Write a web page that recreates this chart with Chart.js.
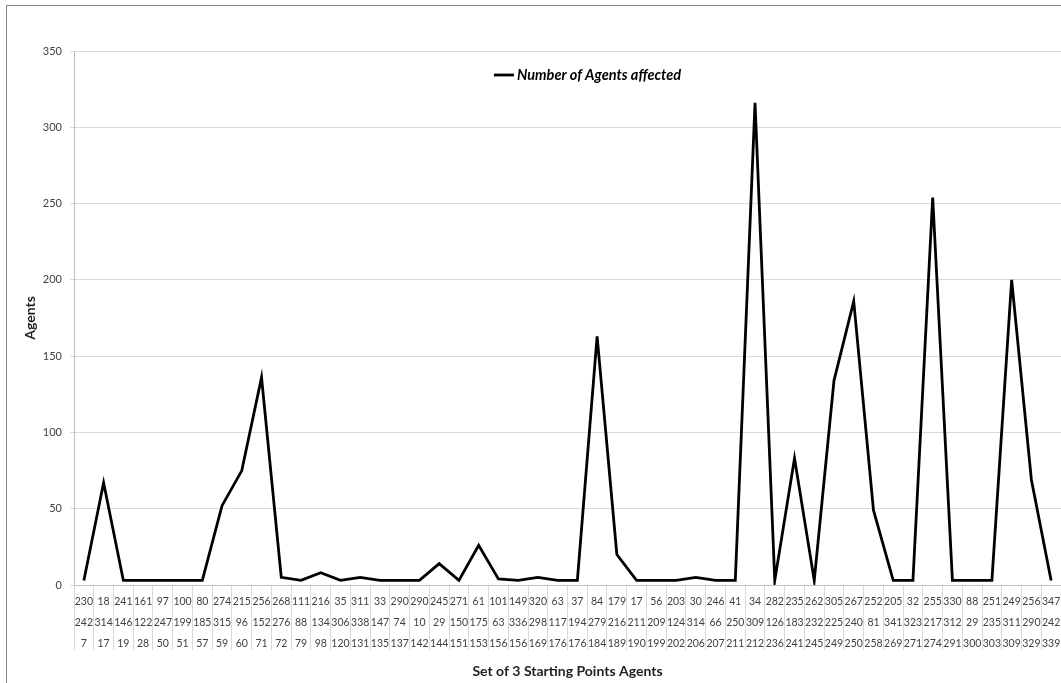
<!DOCTYPE html>
<html>
<head>
<meta charset="utf-8">
<script src="https://cdn.jsdelivr.net/npm/chart.js@4.4.0/dist/chart.umd.min.js"></script>
<style>
  html, body { margin: 0; padding: 0; background: #fff; overflow: hidden; }
  #frame { position: absolute; left: 6px; top: 5px; width: 1200px; height: 800px; border: 1px solid #868686; }
  #wrap { position: absolute; left: 0; top: 0; width: 1061px; height: 683px; }
</style>
</head>
<body>
<div id="frame"></div>
<div id="wrap"><canvas id="agentsChart"></canvas></div>
<script>
// three starting points for each run (x axis rows)
const firstPoint  = [230, 18, 241, 161, 97, 100, 80, 274, 215, 256, 268, 111, 216, 35, 311, 33, 290, 290, 245, 271, 61, 101, 149, 320, 63, 37, 84, 179, 17, 56, 203, 30, 246, 41, 34, 282, 235, 262, 305, 267, 252, 205, 32, 255, 330, 88, 251, 249, 256, 347];
const secondPoint = [242, 314, 146, 122, 247, 199, 185, 315, 96, 152, 276, 88, 134, 306, 338, 147, 74, 10, 29, 150, 175, 63, 336, 298, 117, 194, 279, 216, 211, 209, 124, 314, 66, 250, 309, 126, 183, 232, 225, 240, 81, 341, 323, 217, 312, 29, 235, 311, 290, 242];
const thirdPoint  = [7, 17, 19, 28, 50, 51, 57, 59, 60, 71, 72, 79, 98, 120, 131, 135, 137, 142, 144, 151, 153, 156, 156, 169, 176, 176, 184, 189, 190, 199, 202, 206, 207, 211, 212, 236, 241, 245, 249, 250, 258, 269, 271, 274, 291, 300, 303, 309, 329, 339];

const agentsAffected = [3, 67, 3, 3, 3, 3, 3, 52, 75, 136, 5, 3, 8, 3, 5, 3, 3, 3, 14, 3, 26, 4, 3, 5, 3, 3, 163, 20, 3, 3, 3, 5, 3, 3, 316, 3, 83, 3, 134, 186, 49, 3, 3, 254, 3, 3, 3, 200, 69, 3];

const yTicks = [0, 50, 100, 150, 200, 250, 300, 350];

const labels = firstPoint.map((a, i) => [String(a), String(secondPoint[i]), String(thirdPoint[i])]);

const FONT = 'Lato, "Open Sans", sans-serif';

// legend sits inside the plot, near the top, like the spreadsheet one
const insideLegend = {
    id: 'insideLegend',
    afterDraw(chart) {
        const { ctx, chartArea } = chart;
        const ds = chart.data.datasets[0];
        ctx.save();
        ctx.font = 'italic bold 14.5px ' + FONT;
        const textW = ctx.measureText(ds.label).width;
        const total = 20 + 3 + textW;
        const x0 = (chartArea.left + chartArea.right) / 2 + 20 - total / 2;
        const y = chartArea.top + 24;
        ctx.strokeStyle = ds.borderColor;
        ctx.lineWidth = 2.8;
        ctx.beginPath();
        ctx.moveTo(x0, y);
        ctx.lineTo(x0 + 20, y);
        ctx.stroke();
        ctx.fillStyle = '#000';
        ctx.textBaseline = 'middle';
        ctx.fillText(ds.label, x0 + 23, y);
        ctx.restore();
    }
};

const ctx = document.getElementById('agentsChart').getContext('2d');
const agentsChart = new Chart(ctx, {
    type: 'line',
    data: {
        labels: labels,
        datasets: [{
            label: 'Number of Agents affected',
            data: agentsAffected,
            borderColor: '#000',
            backgroundColor: '#000',
            borderWidth: 2.8,
            pointRadius: 0,
            tension: 0,
        }]
    },
    options: {
        responsive: true,
        maintainAspectRatio: false,
        animation: false,
        layout: { padding: { left: 0, right: 0, top: 51, bottom: 0 } },
        plugins: {
            legend: { display: false },
            tooltip: { enabled: false }
        },
        scales: {
            x: {
                offset: true,
                grid: {
                    offset: true,
                    drawOnChartArea: false,
                    tickLength: 65,
                    color: '#d9d9d9',
                },
                border: { color: '#bfbfbf' },
                ticks: {
                    autoSkip: false,
                    maxRotation: 0,
                    minRotation: 0,
                    padding: -59,
                    color: '#404040',
                    font: { family: FONT, size: 10.5, lineHeight: 2 }
                },
                title: {
                    display: true,
                    text: 'Set of 3 Starting Points Agents',
                    color: '#222',
                    padding: { top: 0, bottom: 3 },
                    font: { family: FONT, size: 14, weight: 'bold' }
                },
                afterFit: (scale) => { scale.height = 98; }
            },
            y: {
                min: 0,
                max: 350,
                afterBuildTicks: (scale) => { scale.ticks = yTicks.map(v => ({ value: v })); },
                grid: { color: '#d9d9d9', tickLength: 4 },
                border: { color: '#bfbfbf' },
                ticks: {
                    padding: 8,
                    color: '#404040',
                    font: { family: FONT, size: 11 }
                },
                title: {
                    display: true,
                    text: 'Agents',
                    color: '#222',
                    padding: { top: 22, bottom: 0 },
                    font: { family: FONT, size: 14, weight: 'bold' }
                },
                afterFit: (scale) => { scale.width = 74; }
            }
        }
    },
    plugins: [insideLegend]
});
</script>
</body>
</html>
